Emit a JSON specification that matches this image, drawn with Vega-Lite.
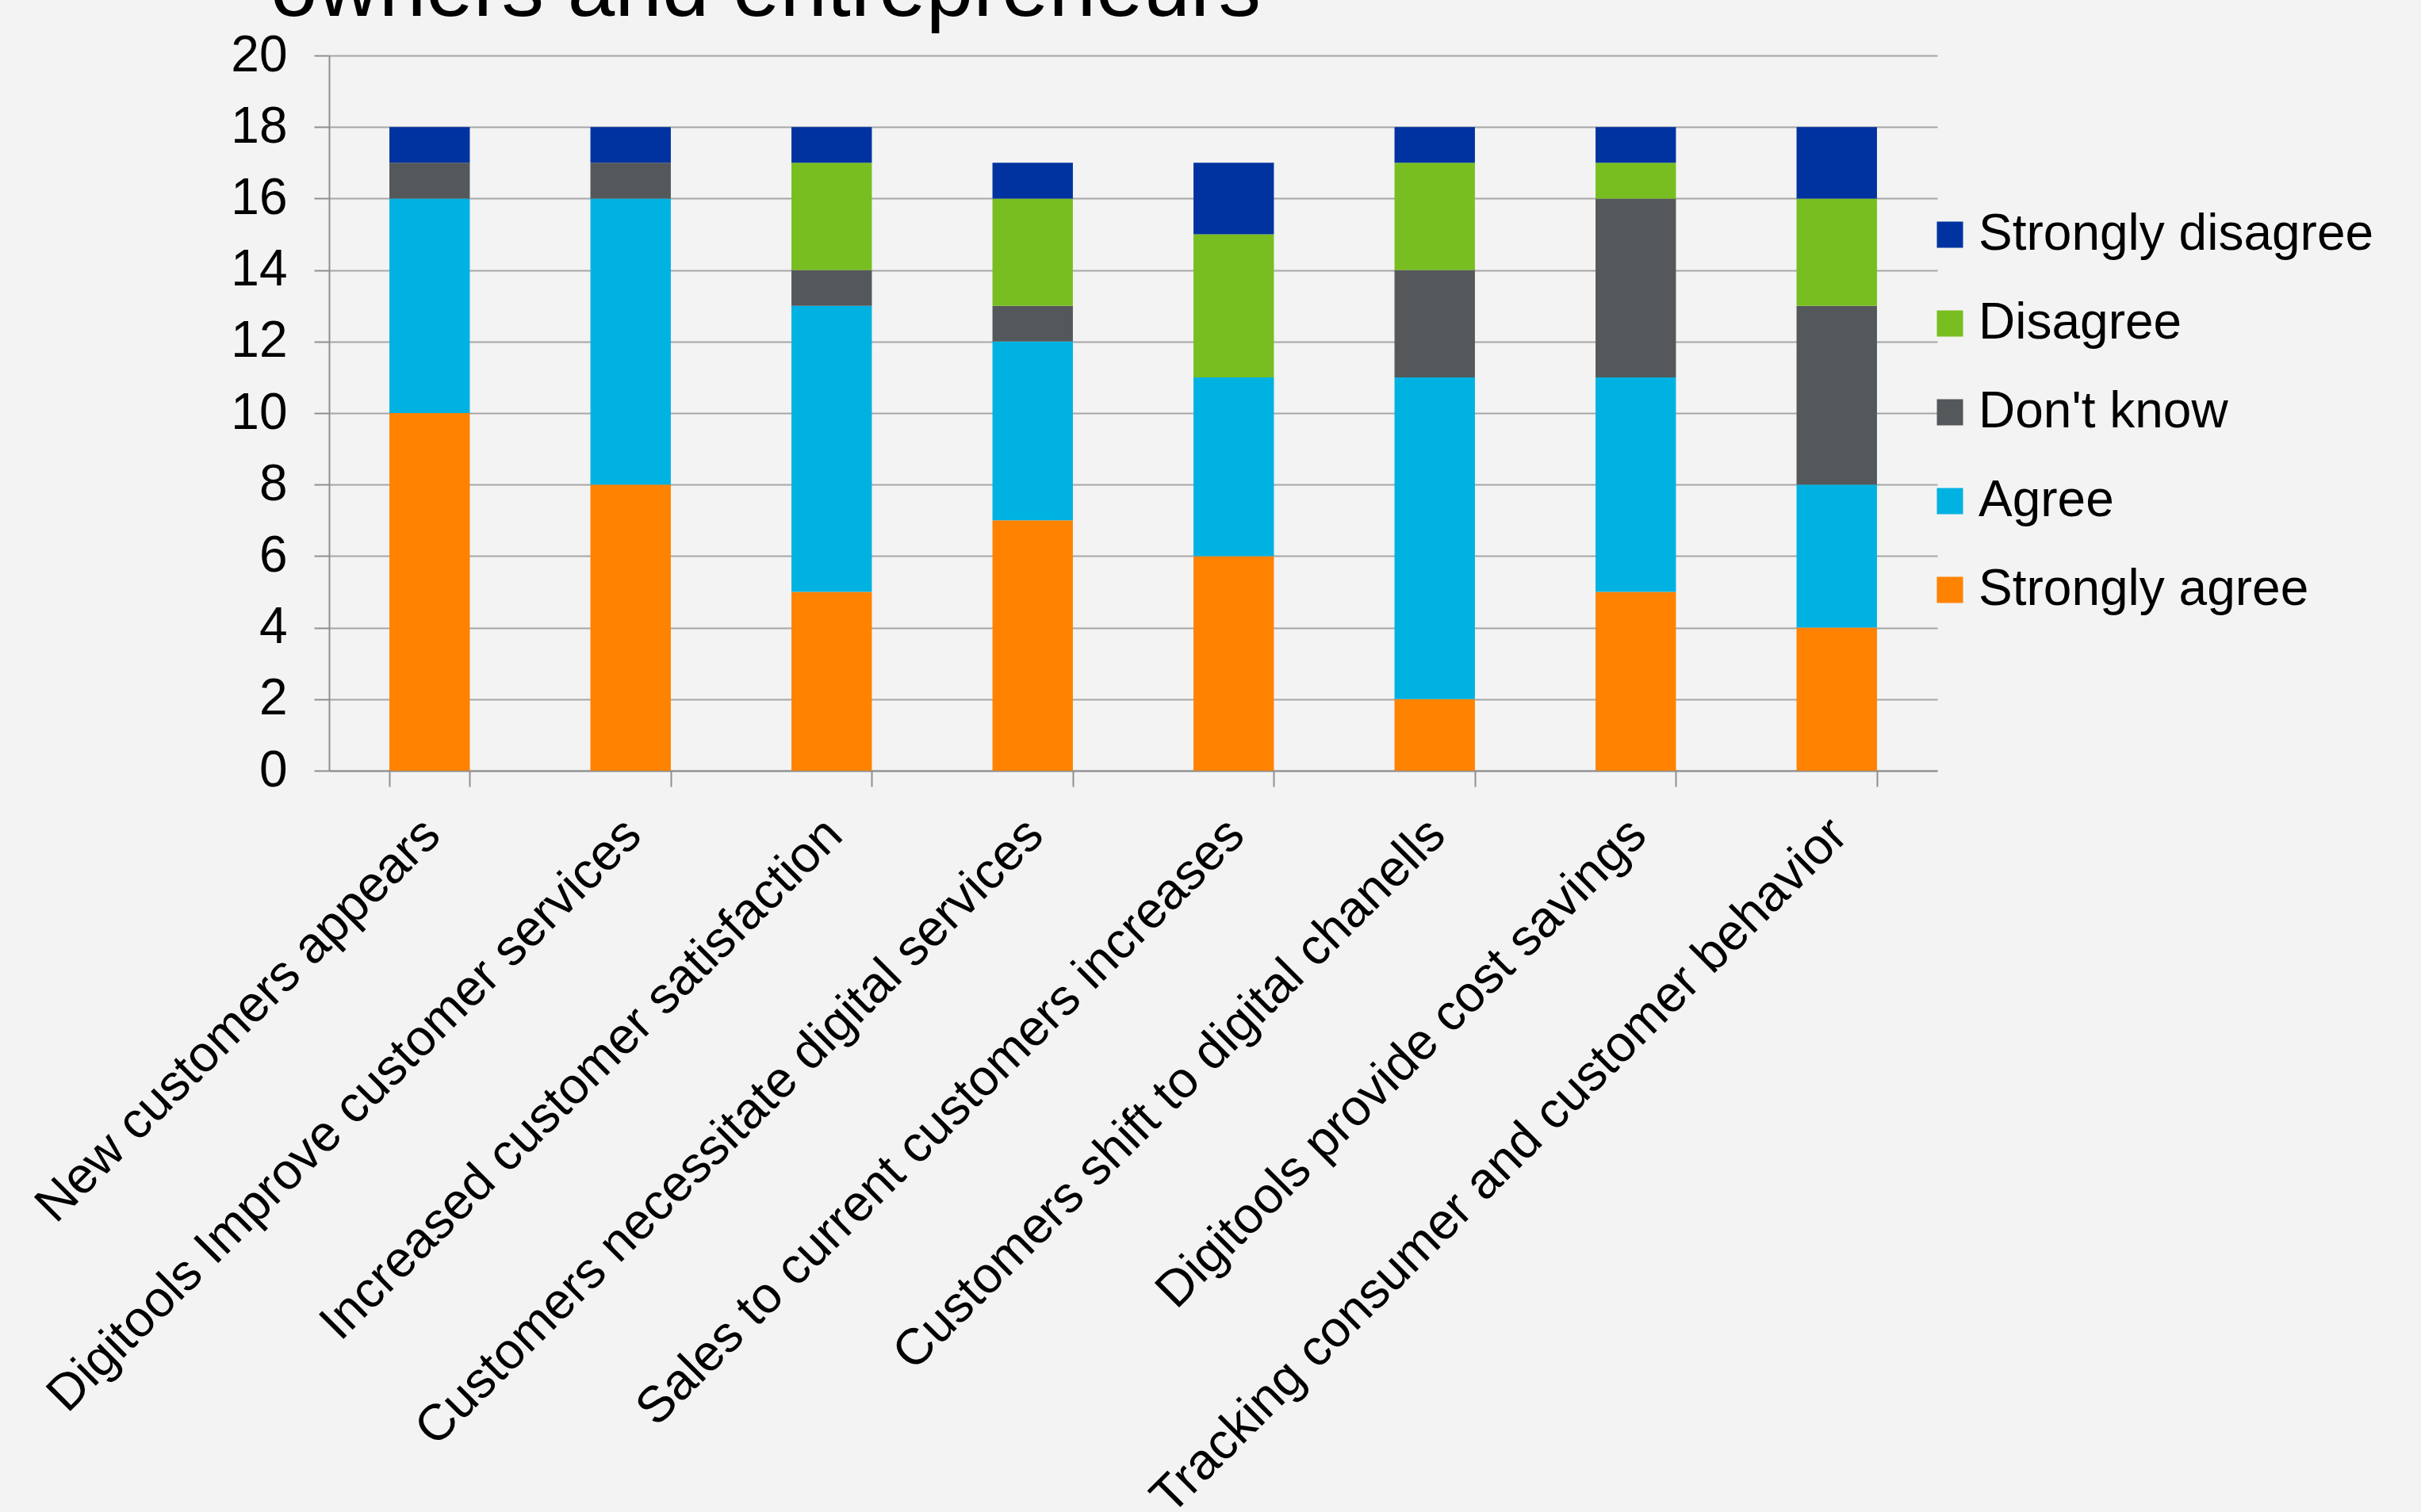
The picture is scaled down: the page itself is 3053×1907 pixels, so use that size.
{
  "$schema": "https://vega.github.io/schema/vega-lite/v6.json",
  "width": 2028,
  "height": 902,
  "autosize": {"type": "none"},
  "padding": {"left": 415, "top": 70, "right": 610, "bottom": 935},
  "background": "#f3f3f3",
  "title": {
    "text": "owners and entrepreneurs",
    "font": "Liberation Sans",
    "fontSize": 107,
    "fontWeight": "normal",
    "color": "#000000",
    "anchor": "start",
    "frame": "group",
    "dx": -74,
    "dy": 89,
    "baseline": "alphabetic",
    "offset": 0
  },
  "data": {
    "values": [
      {"statement": "New customers appears", "response": "Strongly agree", "level": 1, "count": 10},
      {"statement": "New customers appears", "response": "Agree", "level": 2, "count": 6},
      {"statement": "New customers appears", "response": "Don't know", "level": 3, "count": 1},
      {"statement": "New customers appears", "response": "Disagree", "level": 4, "count": 0},
      {"statement": "New customers appears", "response": "Strongly disagree", "level": 5, "count": 1},
      {"statement": "Digitools Improve customer services", "response": "Strongly agree", "level": 1, "count": 8},
      {"statement": "Digitools Improve customer services", "response": "Agree", "level": 2, "count": 8},
      {"statement": "Digitools Improve customer services", "response": "Don't know", "level": 3, "count": 1},
      {"statement": "Digitools Improve customer services", "response": "Disagree", "level": 4, "count": 0},
      {"statement": "Digitools Improve customer services", "response": "Strongly disagree", "level": 5, "count": 1},
      {"statement": "Increased customer satisfaction", "response": "Strongly agree", "level": 1, "count": 5},
      {"statement": "Increased customer satisfaction", "response": "Agree", "level": 2, "count": 8},
      {"statement": "Increased customer satisfaction", "response": "Don't know", "level": 3, "count": 1},
      {"statement": "Increased customer satisfaction", "response": "Disagree", "level": 4, "count": 3},
      {"statement": "Increased customer satisfaction", "response": "Strongly disagree", "level": 5, "count": 1},
      {"statement": "Customers necessitate digital services", "response": "Strongly agree", "level": 1, "count": 7},
      {"statement": "Customers necessitate digital services", "response": "Agree", "level": 2, "count": 5},
      {"statement": "Customers necessitate digital services", "response": "Don't know", "level": 3, "count": 1},
      {"statement": "Customers necessitate digital services", "response": "Disagree", "level": 4, "count": 3},
      {"statement": "Customers necessitate digital services", "response": "Strongly disagree", "level": 5, "count": 1},
      {"statement": "Sales to current customers increases", "response": "Strongly agree", "level": 1, "count": 6},
      {"statement": "Sales to current customers increases", "response": "Agree", "level": 2, "count": 5},
      {"statement": "Sales to current customers increases", "response": "Don't know", "level": 3, "count": 0},
      {"statement": "Sales to current customers increases", "response": "Disagree", "level": 4, "count": 4},
      {"statement": "Sales to current customers increases", "response": "Strongly disagree", "level": 5, "count": 2},
      {"statement": "Customers shift to digital chanells", "response": "Strongly agree", "level": 1, "count": 2},
      {"statement": "Customers shift to digital chanells", "response": "Agree", "level": 2, "count": 9},
      {"statement": "Customers shift to digital chanells", "response": "Don't know", "level": 3, "count": 3},
      {"statement": "Customers shift to digital chanells", "response": "Disagree", "level": 4, "count": 3},
      {"statement": "Customers shift to digital chanells", "response": "Strongly disagree", "level": 5, "count": 1},
      {"statement": "Digitools provide cost savings", "response": "Strongly agree", "level": 1, "count": 5},
      {"statement": "Digitools provide cost savings", "response": "Agree", "level": 2, "count": 6},
      {"statement": "Digitools provide cost savings", "response": "Don't know", "level": 3, "count": 5},
      {"statement": "Digitools provide cost savings", "response": "Disagree", "level": 4, "count": 1},
      {"statement": "Digitools provide cost savings", "response": "Strongly disagree", "level": 5, "count": 1},
      {"statement": "Tracking consumer and customer behavior", "response": "Strongly agree", "level": 1, "count": 4},
      {"statement": "Tracking consumer and customer behavior", "response": "Agree", "level": 2, "count": 4},
      {"statement": "Tracking consumer and customer behavior", "response": "Don't know", "level": 3, "count": 5},
      {"statement": "Tracking consumer and customer behavior", "response": "Disagree", "level": 4, "count": 3},
      {"statement": "Tracking consumer and customer behavior", "response": "Strongly disagree", "level": 5, "count": 2}
    ]
  },
  "mark": {"type": "bar", "strokeWidth": 0},
  "encoding": {
    "x": {
      "field": "statement",
      "type": "nominal",
      "sort": null,
      "scale": {"paddingInner": 0.6, "paddingOuter": 0.3},
      "axis": {
        "title": null,
        "labelAngle": -45,
        "labelPadding": 28,
        "labelOffset": -20,
        "tickBand": "extent",
        "tickSize": 20,
        "labelLimit": 2000
      }
    },
    "y": {
      "field": "count",
      "type": "quantitative",
      "stack": "zero",
      "scale": {"domain": [0, 20], "nice": false},
      "axis": {
        "title": null,
        "values": [0, 2, 4, 6, 8, 10, 12, 14, 16, 18, 20],
        "tickSize": 19,
        "labelPadding": 34,
        "grid": true
      }
    },
    "color": {
      "field": "response",
      "type": "nominal",
      "scale": {
        "domain": ["Strongly disagree", "Disagree", "Don't know", "Agree", "Strongly agree"],
        "range": ["#0033A0", "#78BE20", "#54585A", "#00B2E2", "#FF8200"]
      },
      "legend": {
        "title": null,
        "orient": "none",
        "legendX": 2012,
        "legendY": 194,
        "symbolType": "square",
        "symbolSize": 1089,
        "symbolStrokeWidth": 0,
        "symbolOpacity": 1,
        "labelFont": "Liberation Sans",
        "labelFontSize": 64,
        "labelColor": "#000000",
        "labelOffset": 4,
        "rowPadding": 48,
        "labelLimit": 1000
      }
    },
    "order": {"field": "level", "type": "quantitative", "sort": "ascending"}
  },
  "config": {
    "view": {"stroke": null},
    "axis": {
      "labelFont": "Liberation Sans",
      "labelFontSize": 64,
      "labelColor": "#000000",
      "domainColor": "#8f8f8f",
      "domainWidth": 2,
      "tickColor": "#8f8f8f",
      "tickWidth": 2,
      "gridColor": "#a6a6a6",
      "gridWidth": 2
    }
  }
}
